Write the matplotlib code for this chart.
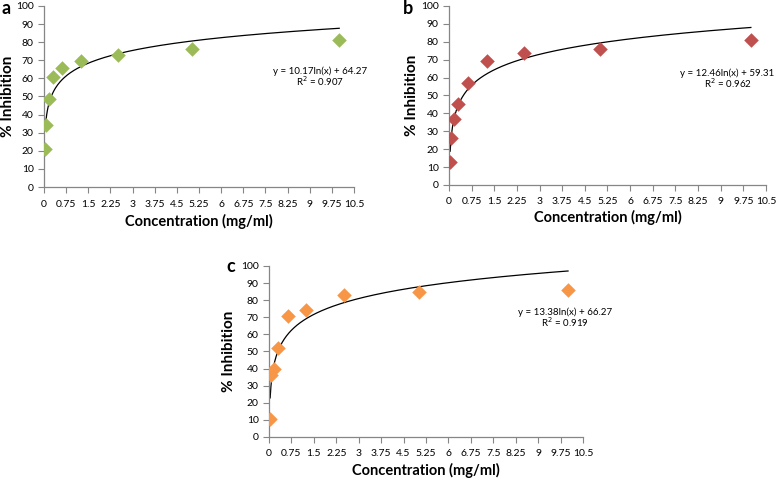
import numpy as np
import matplotlib.pyplot as plt

plt.rcParams['font.family'] = ['Lato', 'DejaVu Sans']

# concentrations (mg/ml)
conc = [0.039, 0.078, 0.156, 0.3125, 0.625, 1.25, 2.5, 5, 10]

# % inhibition for each panel
inhib_a = [21, 34.5, 48.5, 60.5, 66, 69.5, 73, 76, 81]
inhib_b = [12.7, 26, 37, 45, 57, 69, 74, 76, 81]
inhib_c = [10.5, 36, 40, 52, 70.5, 74, 83, 85, 86]

# log fit coefficients: y = k*ln(x) + b, R^2
fit_a = (10.17, 64.27, 0.907)
fit_b = (12.46, 59.31, 0.962)
fit_c = (13.38, 66.27, 0.919)

xticks = [0, 0.75, 1.5, 2.25, 3, 3.75, 4.5, 5.25, 6, 6.75, 7.5, 8.25, 9, 9.75, 10.5]
xtick_labels = ['0', '0.75', '1.5', '2.25', '3', '3.75', '4.5', '5.25', '6',
                '6.75', '7.5', '8.25', '9', '9.75', '10.5']

colors = {'a': '#9BBB59', 'b': '#C0504D', 'c': '#F79646'}

fig = plt.figure(figsize=(7.84, 4.79), dpi=100)


def panel(rect, y, fit, color, letter, letter_pos, eq_pos, ylab_x, xlab_y):
    ax = fig.add_axes(rect)
    ax.scatter(conc, y, marker='D', s=55, color=color, zorder=3, linewidths=0)
    xs = np.linspace(conc[0], conc[-1], 400)
    ax.plot(xs, fit[0] * np.log(xs) + fit[1], color='black', lw=0.9, zorder=2)
    ax.set_xlim(0, 10.5)
    ax.set_ylim(0, 100)
    ax.set_xticks(xticks)
    ax.set_xticklabels(xtick_labels)
    ax.set_yticks(range(0, 101, 10))
    for s in ['top', 'right']:
        ax.spines[s].set_visible(False)
    for s in ['left', 'bottom']:
        ax.spines[s].set_color('#868686')
        ax.spines[s].set_linewidth(0.9)
    ax.tick_params(axis='both', labelsize=7.5, color='#868686', length=4,
                   width=0.8, direction='out')
    ax.tick_params(axis='x', pad=5)
    ax.set_xlabel('Concentration (mg/ml)', fontsize=10.5, fontweight='bold', va='center')
    ax.set_ylabel('% Inhibition', fontsize=11, fontweight='bold', va='center')
    ax.xaxis.set_label_coords(0.5, xlab_y)
    ax.yaxis.set_label_coords(ylab_x, 0.5)
    fig.text(letter_pos[0], letter_pos[1], letter, fontsize=13, fontweight='bold',
             ha='left', va='center')
    fig.text(eq_pos[0], eq_pos[1], 'y = %.2fln(x) + %.2f' % (fit[0], fit[1]),
             fontsize=7, ha='center', va='center')
    fig.text(eq_pos[0], eq_pos[1] - 0.022, 'R$^2$ = %.3f' % fit[2],
             fontsize=7, ha='center', va='center')
    return ax


panel([0.0561, 0.6096, 0.3954, 0.3779], inhib_a, fit_a, colors['a'], 'a',
      (0.002, 0.983), (0.408, 0.852), -0.116, -0.193)
panel([0.5727, 0.6138, 0.4043, 0.3737], inhib_b, fit_b, colors['b'], 'b',
      (0.514, 0.983), (0.928, 0.848), -0.117, -0.184)
panel([0.3431, 0.0877, 0.4005, 0.3570], inhib_c, fit_c, colors['c'], 'c',
      (0.289, 0.443), (0.721, 0.349), -0.127, -0.193)

fig.savefig('out.png', dpi=100)
